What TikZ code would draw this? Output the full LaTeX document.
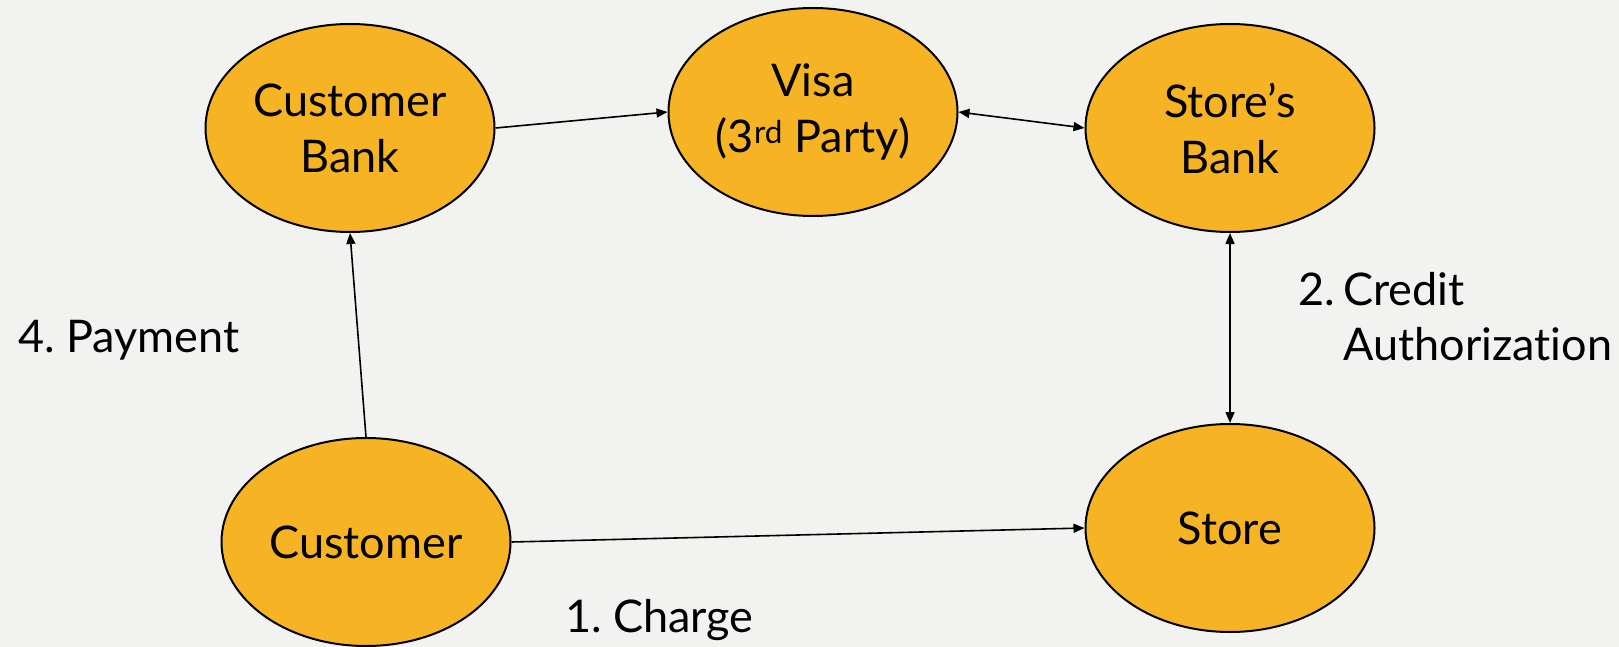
\documentclass[tikz,border=0pt]{standalone}
\usepackage{fontspec}
\setmainfont{Lato}[Ligatures={NoCommon,NoDiscretionary}]
\frenchspacing
\usetikzlibrary{shapes.geometric,arrows.meta}
\definecolor{pagebg}{HTML}{F2F2F0}
\definecolor{nodefill}{HTML}{F6B324}
\begin{document}
\begin{tikzpicture}[x=1pt,y=-1pt,
  party/.style={ellipse, draw=black, line width=2pt, fill=nodefill,
    minimum width=289pt, minimum height=208pt, inner sep=0pt,
    align=center, font=\fontsize{45}{56}\selectfont},
  flow/.style={line width=1.6pt, -{Triangle[length=11pt,width=9pt]}},
  twoway/.style={line width=1.6pt, {Triangle[length=11pt,width=9pt]}-{Triangle[length=11pt,width=9pt]}},
  note/.style={font=\fontsize{45}{55}\selectfont, inner sep=0pt}]
  % page background
  \fill[pagebg] (0,0) rectangle (1619,647);
  \useasboundingbox (0,0) rectangle (1619,647);

  % parties
  \node[party] (cbank) at (350,128) {Customer\\Bank};
  \node[party] (visa)  at (813,112) {Visa\\(3\textsuperscript{rd} Party)};
  \node[party] (sbank) at (1230,128) {Store’s\\Bank};
  \node[party] (cust)  at (366,542) {Customer};
  \node[party] (store) at (1230,528) {Store};

  % connectors
  \draw[flow]   (cbank.east)  -- (visa.west);
  \draw[twoway] (visa.east)   -- (sbank.west);
  \draw[twoway] (sbank.south) -- (store.north);
  \draw[flow]   (cust.east)   -- (store.west);
  \draw[flow]   (cust.north)  -- (cbank.south);

  % step labels
  \node[note, anchor=base west] (lpay) at (18,352) {4. Payment};
  \node[note, anchor=base west] (lcharge) at (565,632) {1. Charge};
  \node[note, anchor=base west] (lauth) at (1298,305)
    {\begin{tabular}[t]{@{}l@{}}\makebox[45pt][l]{2.}Credit\\\hspace*{45pt}Authorization\end{tabular}};
\end{tikzpicture}
\end{document}
